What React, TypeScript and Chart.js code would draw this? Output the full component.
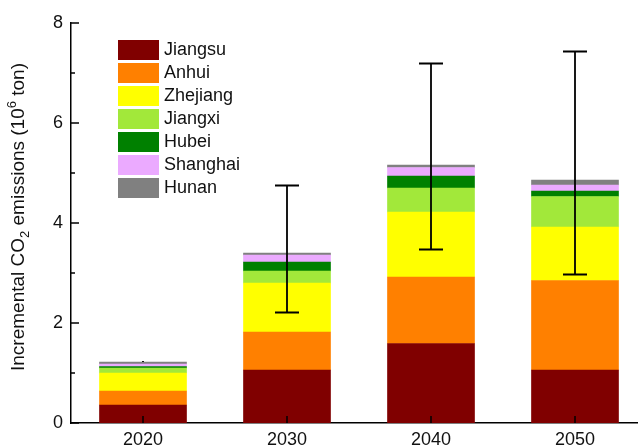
import React, { useEffect, useRef } from "react";
import { Chart, registerables } from "chart.js";

Chart.register(...registerables);

const years = ["2020", "2030", "2040", "2050"];
const provinces = ["Jiangsu", "Anhui", "Zhejiang", "Jiangxi", "Hubei", "Shanghai", "Hunan"];
const colors = ["#800000", "#FF8000", "#FFFF00", "#A2E83A", "#008000", "#EBAAFF", "#808080"];

const jiangsu = [0.36, 1.06, 1.59, 1.06];
const anhui = [0.28, 0.76, 1.33, 1.79];
const zhejiang = [0.36, 0.98, 1.30, 1.07];
const jiangxi = [0.10, 0.24, 0.48, 0.61];
const hubei = [0.03, 0.18, 0.24, 0.11];
const shanghai = [0.05, 0.14, 0.17, 0.12];
const hunan = [0.04, 0.04, 0.05, 0.10];

const errLow = [1.22, 2.21, 3.47, 2.97];
const errHigh = [1.24, 4.75, 7.19, 7.43];

const yTicks = [0, 2, 4, 6, 8];
const yMinorTicks = [1, 3, 5, 7];

const FONT = "'Liberation Sans', Arial, sans-serif";

export default function App() {
  const ref = useRef<HTMLCanvasElement>(null);

  useEffect(() => {
    if (!ref.current) return;
    const series = [jiangsu, anhui, zhejiang, jiangxi, hubei, shanghai, hunan];

    const extras = {
      id: "extras",
      afterDatasetsDraw(chart: any) {
        const ctx = chart.ctx;
        const x = chart.scales.x;
        const y = chart.scales.y;
        ctx.save();
        ctx.strokeStyle = "#000";
        ctx.lineWidth = 1.8;
        years.forEach((_, i) => {
          const px = x.getPixelForValue(i);
          const yl = y.getPixelForValue(errLow[i]);
          const yh = y.getPixelForValue(errHigh[i]);
          ctx.beginPath();
          ctx.moveTo(px, yl);
          ctx.lineTo(px, yh);
          if (errHigh[i] - errLow[i] > 0.1) {
            ctx.moveTo(px - 12, yl);
            ctx.lineTo(px + 12, yl);
            ctx.moveTo(px - 12, yh);
            ctx.lineTo(px + 12, yh);
          }
          ctx.stroke();
        });
        ctx.restore();
      },
      afterDraw(chart: any) {
        const ctx = chart.ctx;
        const x = chart.scales.x;
        const y = chart.scales.y;
        const area = chart.chartArea;
        ctx.save();
        // ticks
        ctx.strokeStyle = "#000";
        ctx.lineWidth = 1.5;
        ctx.beginPath();
        yTicks.forEach((v) => {
          const py = y.getPixelForValue(v);
          ctx.moveTo(area.left, py);
          ctx.lineTo(area.left + 8, py);
        });
        yMinorTicks.forEach((v) => {
          const py = y.getPixelForValue(v);
          ctx.moveTo(area.left, py);
          ctx.lineTo(area.left + 4, py);
        });
        years.forEach((_, i) => {
          const px = x.getPixelForValue(i);
          ctx.moveTo(px, area.bottom);
          ctx.lineTo(px, area.bottom - 7);
        });
        ctx.stroke();

        // legend
        ctx.font = `18px ${FONT}`;
        ctx.textBaseline = "middle";
        ctx.textAlign = "left";
        provinces.forEach((name, i) => {
          const top = 40 + 23 * i;
          ctx.fillStyle = colors[i];
          ctx.fillRect(118, top, 41, 20);
          ctx.fillStyle = "#111";
          ctx.fillText(name, 164, top + 10);
        });

        // y axis title with sub/superscript
        const parts: [string, number, number][] = [
          ["Incremental CO", 19, 0],
          ["2", 13, 5],
          [" emissions (10", 19, 0],
          ["6", 13, -8],
          [" ton)", 19, 0],
        ];
        let total = 0;
        parts.forEach(([t, s]) => {
          ctx.font = `${s}px ${FONT}`;
          total += ctx.measureText(t).width;
        });
        const cy = (area.top + area.bottom) / 2 - 6;
        ctx.translate(24, cy);
        ctx.rotate(-Math.PI / 2);
        ctx.textBaseline = "alphabetic";
        ctx.fillStyle = "#111";
        let cx = -total / 2;
        parts.forEach(([t, s, dy]) => {
          ctx.font = `${s}px ${FONT}`;
          ctx.fillText(t, cx, dy);
          cx += ctx.measureText(t).width;
        });
        ctx.restore();
      },
    };

    const chart = new Chart(ref.current, {
      type: "bar",
      data: {
        labels: years,
        datasets: provinces.map((p, i) => ({
          label: p,
          data: series[i],
          backgroundColor: colors[i],
          borderWidth: 0,
          barThickness: 87,
        })),
      },
      options: {
        animation: false,
        responsive: false,
        maintainAspectRatio: false,
        layout: { padding: { left: 0, right: 13, top: 23, bottom: 0 } },
        plugins: { legend: { display: false }, tooltip: { enabled: false }, title: { display: false } },
        scales: {
          x: {
            stacked: true,
            grid: { display: false, drawTicks: false },
            border: { display: true, color: "#000", width: 1.5 },
            ticks: { color: "#111", font: { family: FONT, size: 18 }, padding: 6 },
            afterFit(scale: any) {
              scale.height = 25;
            },
          },
          y: {
            stacked: true,
            min: 0,
            max: 8,
            grid: { display: false, drawTicks: false },
            border: { display: true, color: "#000", width: 1.5 },
            ticks: { stepSize: 2, color: "#111", font: { family: FONT, size: 18 }, padding: 8 },
            afterFit(scale: any) {
              scale.width = 71;
            },
          },
        },
      },
      plugins: [extras],
    });
    return () => chart.destroy();
  }, []);

  return (
    <div style={{ position: "fixed", left: 0, top: 0, width: 638, height: 448, overflow: "hidden", background: "#fff" }}>
      <canvas ref={ref} width={660} height={448} style={{ display: "block", width: 660, height: 448 }} />
    </div>
  );
}
